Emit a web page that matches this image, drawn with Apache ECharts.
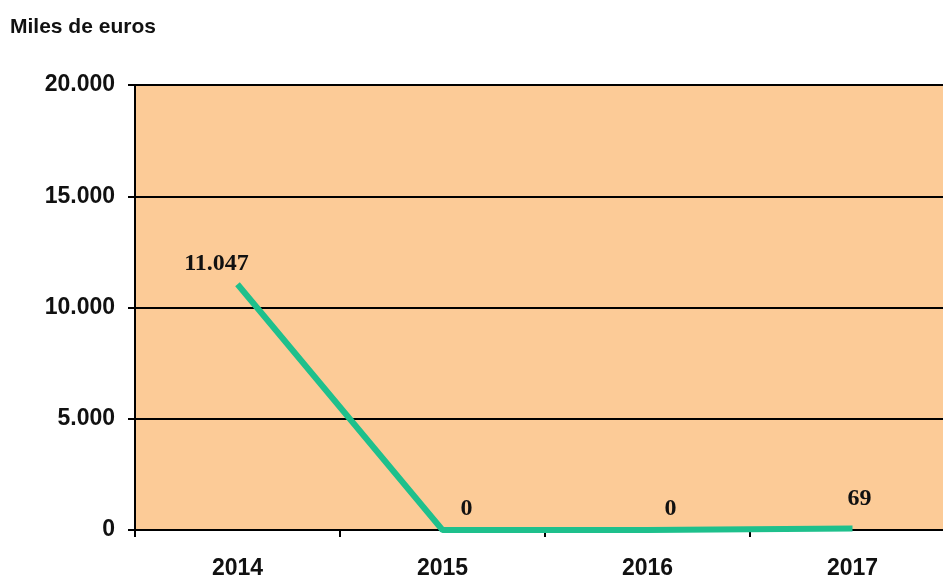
<!DOCTYPE html>
<html><head><meta charset="utf-8">
<script src="https://cdn.jsdelivr.net/npm/echarts@6/dist/echarts.min.js"></script>
<style>html,body{margin:0;padding:0;background:#fff;overflow:hidden;width:943px;height:576px}#c{width:955px;height:576px}</style>
</head><body><div id="c"></div>
<script>
const categories = ['2014', '2015', '2016', '2017'];
const values = [11047, 0, 0, 69];
const yTicks = [0, 5000, 10000, 15000, 20000];

const labelOffsets = [[-21, -7], [24, -8], [23, -8], [7, -17]];

function fmt(v) { return String(v).replace(/\B(?=(\d{3})+(?!\d))/g, '.'); }

const chart = echarts.init(document.getElementById('c'));
chart.setOption({
  animation: false,
  title: { text: 'Miles de euros', left: 5, top: 12,
    textStyle: { fontFamily: 'Liberation Sans, Arial', fontWeight: 'bold', fontSize: 21, color: '#111' } },
  grid: { left: 135, top: 85, right: 0, bottom: 46, outerBoundsMode: 'none', containLabel: false,
    show: true, backgroundColor: '#FCCB97', borderWidth: 0 },
  xAxis: {
    type: 'category', data: categories, boundaryGap: true,
    axisLine: { lineStyle: { color: '#000', width: 2 } },
    axisTick: { show: true, length: 7, inside: false, lineStyle: { color: '#000', width: 2 } },
    axisLabel: { margin: 27, fontFamily: 'Liberation Sans, Arial', fontWeight: 'bold', fontSize: 23, color: '#111' },
    splitLine: { show: false }
  },
  yAxis: {
    type: 'value', min: yTicks[0], max: yTicks[yTicks.length - 1], interval: yTicks[1] - yTicks[0],
    axisLine: { show: true, lineStyle: { color: '#000', width: 2 } },
    axisTick: { show: true, length: 7, lineStyle: { color: '#000', width: 2 } },
    axisLabel: { margin: 20, formatter: fmt, fontFamily: 'Liberation Sans, Arial', fontWeight: 'bold', fontSize: 23, color: '#111' },
    splitLine: { show: true, lineStyle: { color: '#000', width: 2 } }
  },
  series: [{
    type: 'line', showSymbol: true, symbol: 'circle', symbolSize: 2,
    itemStyle: { color: 'rgba(0,0,0,0)', borderWidth: 0 },
    lineStyle: { color: '#1EC08C', width: 6 },
    data: values.map((v, i) => ({
      value: v,
      label: { show: true, position: 'top', distance: 0, offset: labelOffsets[i],
        formatter: p => fmt(p.value), lineHeight: 24,
        fontFamily: 'Liberation Serif, Times New Roman', fontWeight: 'bold', fontSize: 24, color: '#111' }
    })),
    z: 3
  }]
});
</script></body></html>
